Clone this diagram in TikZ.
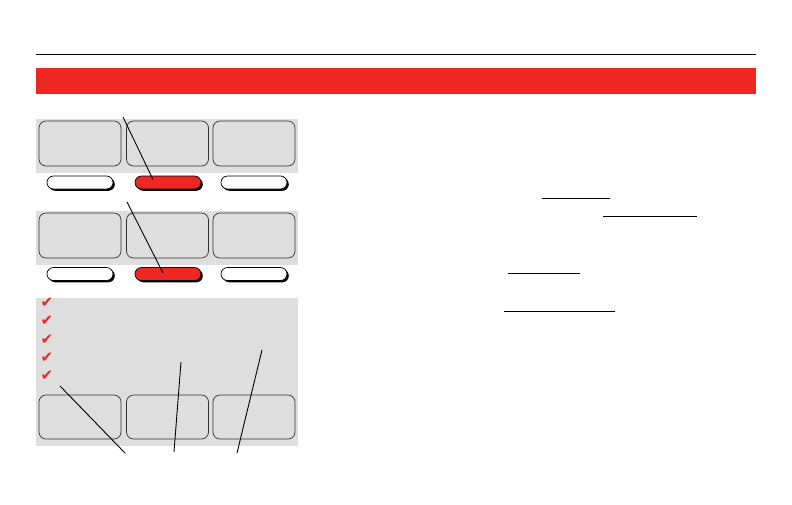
\documentclass[tikz,border=0pt]{standalone}
\usepackage{fontspec}
\usetikzlibrary{positioning,calc}
\newfontfamily\symfont{DejaVu Sans}
\definecolor{PanelGray}{HTML}{DEDEDE}
\definecolor{KeyRed}{HTML}{EE2722}
\definecolor{EdgeGray}{HTML}{333333}
\tikzset{screenkey/.style={draw=EdgeGray,rounded corners=7pt,fill=PanelGray,minimum width=82pt,minimum height=45pt,line width=.7pt},
pill/.style={draw=black,fill=white,rounded corners=6.5pt,minimum width=66pt,minimum height=13pt,line width=.7pt,
  preaction={fill=black,transform canvas={shift={(1.8pt,-1.8pt)}}}},
redpill/.style={pill,fill=KeyRed},
leader/.style={draw=black,line width=.9pt},
rule/.style={draw=black,line width=.9pt}}

\begin{document}
\begin{tikzpicture}[x=1pt,y=-1pt]
\useasboundingbox (0,0) rectangle (792,504);
\draw[line width=1pt] (36,54)--(756,54);
\fill[KeyRed] (36,68) rectangle (756,94);
% two screens with soft keys
\foreach \p/\y/\q in {a/143.5/182.5,b/235.5/274}{
\fill[PanelGray] (36,\y-25) rectangle (298,\y+29);
\foreach \k/\x in {1/80,2/167.5,3/254}
  \node[screenkey] (\p box\k) at (\x,\y) {};
\node[pill] (\p pill1) at (80,\q) {};
\node[redpill] (\p pill2) at (168,\q) {};
\node[pill] (\p pill3) at (254,\q) {};}
% checklist screen
\fill[PanelGray] (36,298) rectangle (298,446);
\foreach \i in {0,...,4}
  \node[text=KeyRed,font=\symfont\fontsize{15}{15}\selectfont,inner sep=0pt] (chk\i) at (47,303+18.2*\i) {✔};
\foreach \k/\x in {1/80,2/167.5,3/254}
  \node[screenkey,minimum height=44pt] (cbox\k) at (\x,417) {};
% leader lines
\coordinate (la) at (123,117); \coordinate (lb) at (127,202);
\coordinate (lc) at (60,386); \coordinate (lc') at (125,453);
\coordinate (ld) at (181,362); \coordinate (ld') at (174,452);
\coordinate (le) at (262,350); \coordinate (le') at (237,453);
\draw[leader] (la)--($(apill2.center)+(-15,-3)$);
\draw[leader] (lb)--($(bpill2.center)+(-5,-1)$);
\draw[leader] (lc)--(lc');
\draw[leader] (ld)--(ld');
\draw[leader] (le)--(le');
% underlines
\foreach \xa/\xb/\y in {542/610/198,603/697/216.5,508/580/273,504/615/311}
  \draw[rule] (\xa,\y)--(\xb,\y);
\end{tikzpicture}
\end{document}
